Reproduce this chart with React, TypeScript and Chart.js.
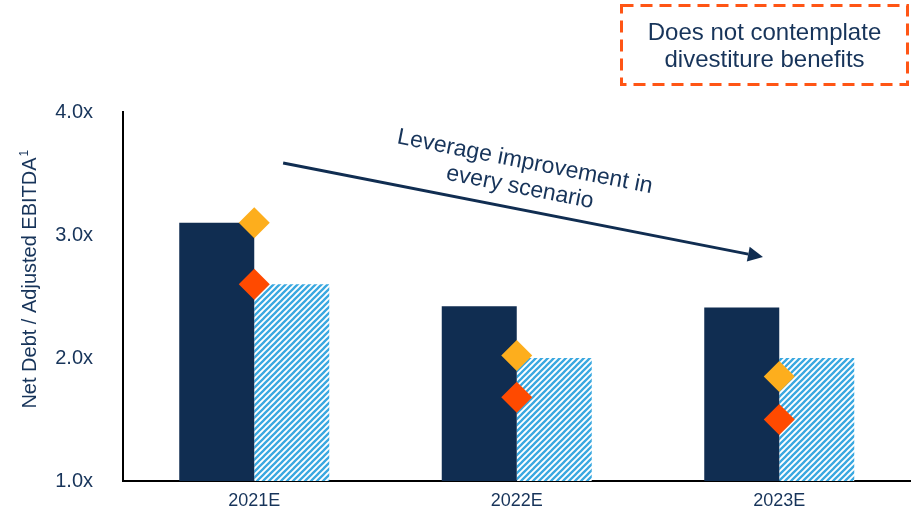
import React, { useEffect, useRef } from "react";
import { Chart, registerables } from "chart.js";

Chart.register(...registerables);

const categories = ["2021E", "2022E", "2023E"];
const baseCase = [3.1, 2.42, 2.41];
const hatchedCase = [2.6, 2.0, 2.0];
const yellowMarkers = [3.1, 2.02, 1.85];
const redMarkers = [2.6, 1.68, 1.5];
const yTicks = [1, 2, 3, 4];

const NAVY = "#102D51";
const TEXT = "#17345A";
const BLUE = "#3AA8E0";
const FONT = "'Liberation Sans', Arial, sans-serif";

function makeHatch(): CanvasPattern | string {
  const n = 6;
  const c = document.createElement("canvas");
  c.width = n;
  c.height = n;
  const ctx = c.getContext("2d");
  if (!ctx) return BLUE;
  ctx.fillStyle = "#ffffff";
  ctx.fillRect(0, 0, n, n);
  ctx.strokeStyle = BLUE;
  ctx.lineWidth = 2.3;
  ctx.beginPath();
  ctx.moveTo(-1, n + 1);
  ctx.lineTo(n + 1, -1);
  ctx.moveTo(-1, 1);
  ctx.lineTo(1, -1);
  ctx.moveTo(n - 1, n + 1);
  ctx.lineTo(n + 1, n - 1);
  ctx.stroke();
  const p = ctx.createPattern(c, "repeat");
  return p || BLUE;
}

const annotations = {
  id: "annotations",
  afterDraw(chart: any) {
    const ctx = chart.ctx as CanvasRenderingContext2D;
    const xs = chart.scales.x;
    const ys = chart.scales.y;
    ctx.save();

    // Arrow
    const x1 = xs.getPixelForValue(0.11);
    const y1 = ys.getPixelForValue(3.585);
    const x2 = xs.getPixelForValue(1.938);
    const y2 = ys.getPixelForValue(2.821);
    const ang = Math.atan2(y2 - y1, x2 - x1);
    const headLen = 15;
    const headHalf = 7.5;
    const bx = x2 - headLen * Math.cos(ang);
    const by = y2 - headLen * Math.sin(ang);
    ctx.strokeStyle = NAVY;
    ctx.fillStyle = NAVY;
    ctx.lineWidth = 3;
    ctx.beginPath();
    ctx.moveTo(x1, y1);
    ctx.lineTo(bx, by);
    ctx.stroke();
    ctx.beginPath();
    ctx.moveTo(x2, y2);
    ctx.lineTo(bx + headHalf * Math.sin(ang), by - headHalf * Math.cos(ang));
    ctx.lineTo(bx - headHalf * Math.sin(ang), by + headHalf * Math.cos(ang));
    ctx.closePath();
    ctx.fill();

    // Arrow text
    const tx = xs.getPixelForValue(1.031);
    const ty = ys.getPixelForValue(3.593);
    ctx.save();
    ctx.translate(tx, ty);
    ctx.rotate(ang);
    ctx.fillStyle = TEXT;
    ctx.font = `23px ${FONT}`;
    ctx.textAlign = "center";
    ctx.textBaseline = "middle";
    ctx.fillText("Leverage improvement in", 0, 0);
    ctx.fillText("every scenario", 0, 26);
    ctx.restore();

    // Dashed box
    ctx.save();
    ctx.strokeStyle = "#FF5515";
    ctx.lineWidth = 3;
    ctx.setLineDash([12, 7]);
    ctx.strokeRect(621.5, 5.5, 286, 79);
    ctx.restore();
    ctx.fillStyle = TEXT;
    ctx.font = `24px ${FONT}`;
    ctx.textAlign = "center";
    ctx.textBaseline = "alphabetic";
    ctx.fillText("Does not contemplate", 764.5, 40);
    ctx.fillText("divestiture benefits", 764.5, 67);

    // Y-axis title
    ctx.save();
    ctx.translate(36, 283);
    ctx.rotate(-Math.PI / 2);
    ctx.font = `20px ${FONT}`;
    ctx.textAlign = "center";
    ctx.textBaseline = "alphabetic";
    const main = "Net Debt / Adjusted EBITDA";
    ctx.fillText(main, 0, 0);
    const w = ctx.measureText(main).width;
    ctx.font = `12px ${FONT}`;
    ctx.textAlign = "left";
    ctx.fillText("1", w / 2 + 1, -8);
    ctx.restore();

    ctx.restore();
  },
};

export default function App() {
  const ref = useRef<HTMLCanvasElement | null>(null);
  useEffect(() => {
    if (!ref.current) return;
    const hatch = makeHatch();
    const chart = new Chart(ref.current, {
      type: "bar",
      data: {
        labels: categories,
        datasets: [
          {
            type: "line",
            label: "Upside",
            data: yellowMarkers,
            showLine: false,
            pointStyle: "rectRot",
            pointRadius: 15.5,
            pointBackgroundColor: "#FDAE1D",
            pointBorderWidth: 0,
            borderWidth: 0,
            order: 0,
          } as any,
          {
            type: "line",
            label: "Downside",
            data: redMarkers,
            showLine: false,
            pointStyle: "rectRot",
            pointRadius: 15.5,
            pointBackgroundColor: "#FF4A00",
            pointBorderWidth: 0,
            borderWidth: 0,
            order: 0,
          } as any,
          {
            type: "bar",
            label: "Base",
            data: baseCase,
            backgroundColor: NAVY,
            borderWidth: 0,
            categoryPercentage: 150 / 262.5,
            barPercentage: 1,
            order: 1,
          },
          {
            type: "bar",
            label: "Alternative",
            data: hatchedCase,
            backgroundColor: hatch as any,
            borderWidth: 0,
            categoryPercentage: 150 / 262.5,
            barPercentage: 1,
            order: 1,
          },
        ],
      },
      options: {
        animation: false,
        responsive: false,
        devicePixelRatio: 1,
        layout: { autoPadding: false, padding: { top: 112, right: 2.5, bottom: 0, left: 0 } },
        plugins: {
          legend: { display: false },
          tooltip: { enabled: false },
        },
        scales: {
          x: {
            grid: { display: false, drawTicks: false },
            border: { color: "#000000", width: 2 },
            ticks: {
              color: TEXT,
              font: { family: FONT, size: 18 },
              padding: 9,
            },
            afterFit(scale: any) {
              scale.height = 38;
              scale.paddingLeft = 0;
              scale.paddingRight = 0;
              scale.paddingTop = 0;
              scale.paddingBottom = 0;
            },
          },
          y: {
            min: 1,
            max: 4,
            grid: { display: false, drawTicks: false },
            border: { color: "#000000", width: 2 },
            afterBuildTicks(scale: any) {
              scale.ticks = yTicks.map((v) => ({ value: v }));
            },
            ticks: {
              color: TEXT,
              font: { family: FONT, size: 20 },
              padding: 30,
              callback: (v: any) => Number(v).toFixed(1) + "x",
            },
            afterFit(scale: any) {
              scale.width = 123;
              scale.paddingLeft = 0;
              scale.paddingRight = 0;
              scale.paddingTop = 0;
              scale.paddingBottom = 0;
            },
          },
        },
      },
      plugins: [annotations],
    });
    return () => chart.destroy();
  }, []);
  return (
    <div style={{ position: "absolute", left: 0, top: 0, width: 913, height: 519, background: "#fff" }}>
      <canvas ref={ref} width={913} height={519} style={{ display: "block" }} />
    </div>
  );
}
